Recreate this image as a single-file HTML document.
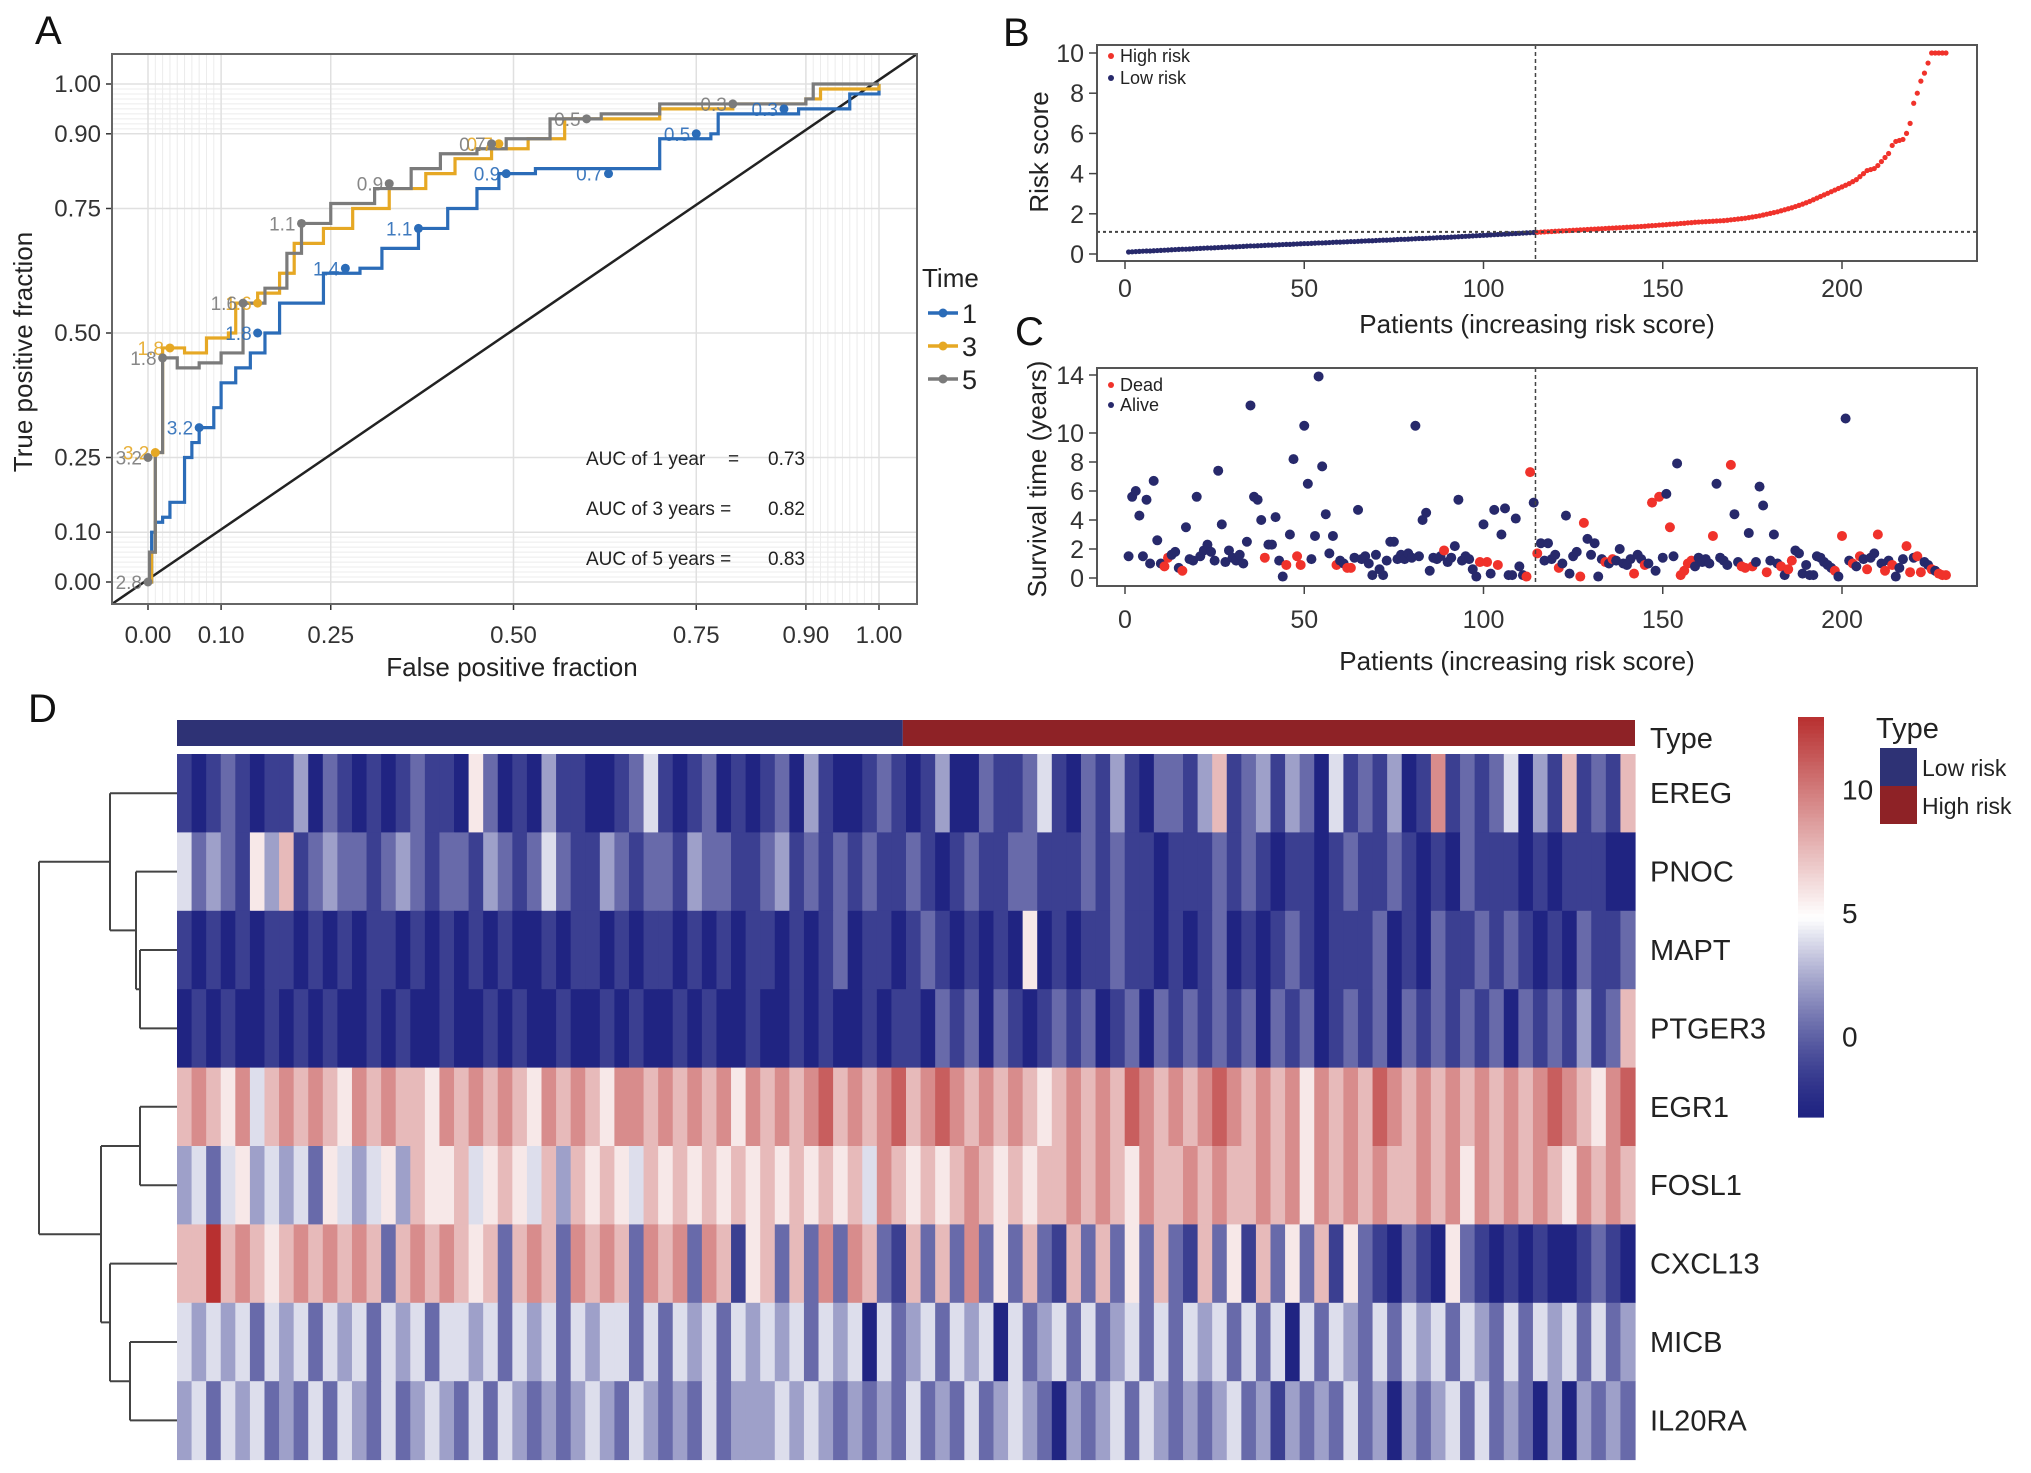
<!DOCTYPE html>
<html><head><meta charset="utf-8">
<style>
html,body{margin:0;padding:0;background:#fff;}
svg{display:block;font-family:"Liberation Sans",Arial,sans-serif;}
</style></head>
<body>
<svg id="fig" width="2031" height="1473" viewBox="0 0 2031 1473" xmlns="http://www.w3.org/2000/svg">
<g id="gA"></g>
<g id="gB"></g>
<g id="gC"></g>
<g id="gD"></g>
</svg>
<script>
// ---------- Panel A data ----------
const rocFpr1 = [0,0.005,0.01,0.02,0.03,0.05,0.06,0.07,0.09,0.10,0.12,0.14,0.16,0.18,0.22,0.24,0.29,0.32,0.37,0.41,0.45,0.48,0.53,0.69,0.70,0.77,0.78,0.89,0.96,1];
const rocTpr1 = [0,0.10,0.12,0.13,0.16,0.25,0.28,0.31,0.35,0.40,0.43,0.46,0.50,0.56,0.56,0.62,0.63,0.67,0.71,0.75,0.79,0.82,0.83,0.83,0.89,0.90,0.94,0.95,0.98,1];
const rocFpr3 = [0,0.005,0.01,0.02,0.05,0.08,0.11,0.12,0.15,0.18,0.20,0.24,0.28,0.33,0.38,0.42,0.47,0.52,0.57,0.65,0.70,0.80,0.90,0.92,1];
const rocTpr3 = [0,0.06,0.26,0.47,0.46,0.49,0.50,0.56,0.58,0.62,0.68,0.71,0.75,0.79,0.82,0.85,0.87,0.89,0.93,0.93,0.95,0.96,0.97,0.99,1];
const rocFpr5 = [0,0.002,0.01,0.02,0.04,0.07,0.10,0.13,0.16,0.19,0.21,0.25,0.31,0.36,0.40,0.45,0.49,0.55,0.62,0.70,0.80,0.90,0.91,1];
const rocTpr5 = [0,0.06,0.26,0.45,0.43,0.44,0.46,0.56,0.59,0.66,0.72,0.76,0.79,0.83,0.86,0.87,0.89,0.93,0.94,0.96,0.96,0.97,1.0,1];
const rocLabelSeries = [1,1,1,1,1,1,1,1,3,3,3,3,5,5,5,5,5,5,5,5,5];
const rocLabelX = [0.07,0.15,0.27,0.37,0.49,0.63,0.75,0.87,0.01,0.03,0.15,0.48,0,0,0.02,0.13,0.21,0.33,0.47,0.60,0.80];
const rocLabelY = [0.31,0.50,0.63,0.71,0.82,0.82,0.90,0.95,0.26,0.47,0.56,0.88,0,0.25,0.45,0.56,0.72,0.80,0.88,0.93,0.96];
const rocLabelText = ["3.2","1.8","1.4","1.1","0.9","0.7","0.5","0.3","3.2","1.8","1.6","0.7","2.8","3.2","1.8","1.6","1.1","0.9","0.7","0.5","0.3"];
const rocTicks = [0,0.10,0.25,0.50,0.75,0.90,1.00];
const rocTickLabels = ["0.00","0.10","0.25","0.50","0.75","0.90","1.00"];
const aucLabels = ["AUC of 1 year","AUC of 3 years =","AUC of 5 years ="];
const aucValues = ["0.73","0.82","0.83"];
const timeLevels = ["1","3","5"];

// ---------- Panel B data ----------
const riskScores = [.10,.11,.12,.13,.14,.15,.15,.16,.17,.18,.19,.20,.21,.22,.23,.24,.24,.25,.26,.27,.28,.29,.30,.30,.31,.32,.33,.34,.35,.35,.36,.37,.38,.39,.40,.40,.41,.42,.43,.44,.44,.45,.46,.47,.48,.48,.49,.50,.51,.52,.52,.53,.54,.55,.55,.56,.57,.58,.59,.59,.60,.61,.62,.62,.63,.64,.65,.66,.66,.67,.68,.69,.69,.70,.71,.72,.73,.73,.74,.75,.76,.77,.77,.78,.79,.80,.81,.82,.82,.83,.84,.85,.86,.87,.88,.89,.90,.91,.92,.93,.94,.95,.96,.97,.98,.99,1.00,1.01,1.02,1.03,1.04,1.05,1.06,1.07,
1.08,1.09,1.10,1.11,1.12,1.13,1.14,1.15,1.16,1.17,1.18,1.19,1.20,1.21,1.22,1.23,1.24,1.25,1.26,1.27,1.28,1.29,1.30,1.31,1.32,1.33,1.34,1.35,1.36,1.37,1.38,1.40,1.41,1.42,1.44,1.45,1.46,1.48,1.49,1.50,1.52,1.53,1.55,1.56,1.58,1.59,1.60,1.61,1.62,1.63,1.64,1.65,1.66,1.68,1.70,1.72,1.74,1.76,1.78,1.81,1.84,1.87,1.90,1.94,1.98,2.02,2.06,2.10,2.15,2.20,2.25,2.30,2.36,2.42,2.48,2.55,2.62,2.70,2.78,2.86,2.94,3.02,3.10,3.18,3.26,3.34,3.42,3.50,3.60,3.70,3.85,4.00,4.15,4.20,4.25,4.40,4.60,4.80,5.00,5.40,5.60,5.65,5.70,6.00,6.50,7.50,8.0,8.6,9.0,9.5,10,10,10,10,10];
const riskCutoff = 1.1;
const splitPatient = 114.5;
const patientTicks = [0,50,100,150,200];
const riskTicks = [0,2,4,6,8,10];

// ---------- Panel C data ----------
const survivalYears = [1.5,5.6,6.0,4.3,1.5,5.4,1.0,6.7,2.6,1.0, 0.8,1.4,1.6,1.8,0.7,0.5,3.5,1.3,1.2,5.6, 1.5,1.9,2.3,1.8,1.2,7.4,3.7,1.1,1.9,1.4, 1.2,1.6,1.0,2.5,11.9,5.6,5.4,4.0,1.4,2.3, 2.3,4.2,1.2,0.1,0.9,3.0,8.2,1.5,0.9,10.5, 6.5,1.3,2.9,13.9,7.7,4.4,1.7,2.9,0.9,1.2, 1.0,0.7,0.7,1.4,4.7,1.3,1.5,1.0,0.2,1.6, 0.6,0.2,1.2,2.5,2.5,1.3,1.6,1.3,1.7,1.4, 10.5,1.5,4.0,4.5,0.5,1.4,1.3,1.5,1.9,1.1, 1.4,2.2,5.4,1.2,1.5,1.3,0.6,0.1,1.1,3.7, 1.1,0.3,4.7,0.9,3.0,4.8,0.2,0.2,4.1,0.8, 0.2,0.1,7.3,5.2,1.7,2.4,1.2,2.4,1.3,1.6, 0.7,1.0,4.3,0.3,1.5,1.8,0.1,3.8,2.7,1.6, 2.4,0.1,1.3,1.1,1.0,1.3,1.2,2.0,1.0,0.9, 1.3,0.3,1.6,1.3,0.9,1.0,5.2,0.5,5.6,1.4, 5.8,3.5,1.5,7.9,0.2,0.5,1.0,1.2,0.8,1.4, 1.1,1.3,1.0,2.9,6.5,1.4,1.2,0.9,7.8,4.4, 1.1,0.8,0.7,3.1,0.8,1.1,6.3,5.0,0.4,1.2, 3.0,1.0,0.8,0.2,0.6,1.2,1.9,1.7,0.3,0.9, 0.2,0.2,1.5,1.4,1.1,0.9,0.7,0.5,0.1,2.9, 11.0,1.2,1.0,0.8,1.5,1.3,0.6,1.4,1.7,3.0, 1.0,0.5,1.2,0.9,0.1,0.7,1.3,2.2,0.4,1.4, 1.5,0.4,1.1,0.9,0.6,0.5,0.3,0.2,0.2];
const deadPatients = [11,12,16,39,45,48,49,59,62,63,89,99,101,104,112,113,115,121,127,128,134,136,142,145,147,149,152,155,156,157,158,164,169,172,173,175,179,183,185,186,198,200,203,205,207,210,212,214,218,219,221,222,225,227,228,229];
const survTicks = [0,2,4,6,8,10,14];

// ---------- Panel D data ----------
const genes = ["EREG","PNOC","MAPT","PTGER3","EGR1","FOSL1","CXCL13","MICB","IL20RA"];
const exprLevels = [
"1012101130210101211052010311001241012010120310012101300211241021310221361231320412130171212403161216",
"4232153612322123212213212421132122132211231212121121012112211121211011121210110121121010211101011100",
"1010101101010110101010100101101011010101101012011012101010501011211010120101210111201021121210102112",
"0101001010100101001001010010010100101001001010010110212021012120120212121202120121202121212021213126",
"6765746767657676657676765767657767676757676786767867876767656767687676787676757676876767676767876578",
"3424534342543453655645654636565465656565656565647656567656566767657667676676757676766767576767657676",
"6696765676767626767656267627676276727615626272762162627252621626252621625162526152102105210101001210",
"4343424342434243424434243424344242434243434243404234243404234242342424342424042432424342432424342423",
"3424342324243242343242432323432432324233343432323242324234320323424323234231323242303234242320303232"];
const colorTicks = [0,5,10];
const riskTypes = ["Low risk","High risk"];
const nLowRisk = 114, nPatients = 229;

// ---------- helpers ----------
const NS = "http://www.w3.org/2000/svg";
function mk(parent, tag, attrs, text){
  const e = document.createElementNS(NS, tag);
  for (const k in attrs) e.setAttribute(k, attrs[k]);
  if (text !== undefined) e.textContent = text;
  parent.appendChild(e);
  return e;
}
const gA = document.getElementById('gA'), gB = document.getElementById('gB'),
      gC = document.getElementById('gC'), gD = document.getElementById('gD');

// ================= Panel A =================
(function(){
  const xA = v => 148 + v * (879 - 148);
  const yA = v => 582 - v * (582 - 84);
  let t = mk(gA,'text',{x:35,y:44,'font-size':40,fill:'#111'},'A');
  
  
  const fine = [0.01,0.02,0.03,0.04,0.05,0.06,0.07,0.08,0.09,0.91,0.92,0.93,0.94,0.95,0.96,0.97,0.98,0.99];
  fine.forEach(v=>{
    mk(gA,'line',{x1:xA(v),x2:xA(v),y1:54,y2:604,stroke:'#ececec','stroke-width':1});
    mk(gA,'line',{x1:112,x2:917,y1:yA(v),y2:yA(v),stroke:'#ececec','stroke-width':1});
  });
  rocTicks.forEach((v,i)=>{
    mk(gA,'line',{x1:xA(v),x2:xA(v),y1:54,y2:604,stroke:'#e0e0e0','stroke-width':1.5});
    mk(gA,'line',{x1:112,x2:917,y1:yA(v),y2:yA(v),stroke:'#e0e0e0','stroke-width':1.5});
    let tl = mk(gA,'text',{x:xA(v),y:643,'font-size':24,fill:'#333','text-anchor':'middle'},rocTickLabels[i]);
    
    
    let yl = mk(gA,'text',{x:101,y:yA(v)+8,'font-size':24,fill:'#333','text-anchor':'end'},rocTickLabels[i]);
    
    
    mk(gA,'line',{x1:xA(v),x2:xA(v),y1:604,y2:610,stroke:'#333','stroke-width':1.5});
    mk(gA,'line',{x1:106,x2:112,y1:yA(v),y2:yA(v),stroke:'#333','stroke-width':1.5});
  });
  let d = mk(gA,'line',{x1:112,y1:604,x2:917,y2:54,stroke:'#222','stroke-width':2.5});
  
  
  const series = [[rocFpr1,rocTpr1,'#2b6cb8','roc-curve-1-year'],[rocFpr3,rocTpr3,'#e6a824','roc-curve-3-years'],[rocFpr5,rocTpr5,'#7b7b7b','roc-curve-5-years']];
  const colOf = {1:'#2b6cb8',3:'#e6a824',5:'#7b7b7b'};
  series.forEach(s=>{
    let p = 'M'+xA(s[0][0])+','+yA(s[1][0]);
    for (let i=1;i<s[0].length;i++){ p += ' H'+xA(s[0][i])+' V'+yA(s[1][i]); }
    let el = mk(gA,'path',{d:p,fill:'none',stroke:s[2],'stroke-width':3.2});
    
    
  });
  rocLabelText.forEach((lab,i)=>{
    const c = colOf[rocLabelSeries[i]];
    let pt = mk(gA,'circle',{cx:xA(rocLabelX[i]),cy:yA(rocLabelY[i]),r:4.5,fill:c});
    
    
    let tx = mk(gA,'text',{x:xA(rocLabelX[i])-6,y:yA(rocLabelY[i])+7,'font-size':19,fill:c,'text-anchor':'end','opacity':0.9},lab);
    
    
  });
  let box = mk(gA,'rect',{x:112,y:54,width:805,height:550,fill:'none',stroke:'#666','stroke-width':2});
  
  
  aucLabels.forEach((l,i)=>{
    let a = mk(gA,'text',{x:586,y:465+i*50,'font-size':19,fill:'#222'},l);
    
    
    if(i===0) mk(gA,'text',{x:728,y:465,'font-size':19,fill:'#222'},'=');
    let b = mk(gA,'text',{x:768,y:465+i*50,'font-size':19,fill:'#222'},aucValues[i]);
    
    
  });
  let xt = mk(gA,'text',{x:512,y:676,'font-size':26,fill:'#222','text-anchor':'middle'},'False positive fraction');
  
  
  let yt = mk(gA,'text',{x:0,y:0,'font-size':26,fill:'#222','text-anchor':'middle',transform:'translate(32,352) rotate(-90)'},'True positive fraction');
  
  
  let lt = mk(gA,'text',{x:922,y:287,'font-size':26,fill:'#222'},'Time');
  
  
  timeLevels.forEach((lv,i)=>{
    const y = 313 + i*33, c = colOf[+lv];
    mk(gA,'line',{x1:928,x2:958,y1:y,y2:y,stroke:c,'stroke-width':3.5});
    mk(gA,'circle',{cx:943,cy:y,r:4.5,fill:c});
    let le = mk(gA,'text',{x:962,y:y+10,'font-size':27,fill:'#222'},lv);
    
    
  });
})();

// ================= Panels B & C =================
const xP = p => 1125 + p * (1842 - 1125) / 200;
(function(){
  const yB = v => 254 - v * (254 - 53) / 10;
  let t = mk(gB,'text',{x:1003,y:46,'font-size':40,fill:'#111'},'B');
  
  
  riskScores.forEach((v,i)=>{
    const p = i+1;
    let c = mk(gB,'circle',{cx:xP(p),cy:yB(v),r:2.6,fill: p<=nLowRisk ? '#27296b' : '#f0322b'});
    
    
  });
  mk(gB,'line',{x1:1097,x2:1977,y1:yB(riskCutoff),y2:yB(riskCutoff),stroke:'#444','stroke-width':2,'stroke-dasharray':'3,3'});
  mk(gB,'line',{x1:xP(splitPatient),x2:xP(splitPatient),y1:45,y2:261,stroke:'#444','stroke-width':1.5,'stroke-dasharray':'4,3'});
  let box = mk(gB,'rect',{x:1097,y:45,width:880,height:216,fill:'none',stroke:'#555','stroke-width':2});
  
  
  riskTicks.forEach(v=>{
    mk(gB,'line',{x1:1089,x2:1097,y1:yB(v),y2:yB(v),stroke:'#444','stroke-width':1.5});
    let l = mk(gB,'text',{x:1084,y:yB(v)+9,'font-size':25,fill:'#333','text-anchor':'end'},String(v));
    
    
  });
  patientTicks.forEach(v=>{
    mk(gB,'line',{x1:xP(v),x2:xP(v),y1:261,y2:269,stroke:'#444','stroke-width':1.5});
    let l = mk(gB,'text',{x:xP(v),y:297,'font-size':25,fill:'#333','text-anchor':'middle'},String(v));
    
    
  });
  let xt = mk(gB,'text',{x:1537,y:333,'font-size':26,fill:'#222','text-anchor':'middle'},'Patients (increasing risk score)');
  
  
  let yt = mk(gB,'text',{x:0,y:0,'font-size':26,fill:'#222','text-anchor':'middle',transform:'translate(1048,152) rotate(-90)'},'Risk score');
  
  
  [['High risk','#f0322b',62],['Low risk','#27296b',84]].forEach(e=>{
    mk(gB,'circle',{cx:1111,cy:e[2]-6,r:3,fill:e[1]});
    let l = mk(gB,'text',{x:1120,y:e[2],'font-size':18,fill:'#222'},e[0]);
    
    
  });
})();
(function(){
  const yC = v => 578 - v * (578 - 375) / 14;
  let t = mk(gC,'text',{x:1015,y:345,'font-size':40,fill:'#111'},'C');
  
  
  const dead = new Set(deadPatients);
  survivalYears.forEach((v,i)=>{
    const p = i+1, isDead = dead.has(p);
    let c = mk(gC,'circle',{cx:xP(p),cy:yC(v),r:5,fill: isDead ? '#f0322b' : '#27296b'});
    
    
  });
  mk(gC,'line',{x1:xP(splitPatient),x2:xP(splitPatient),y1:368,y2:586,stroke:'#444','stroke-width':1.5,'stroke-dasharray':'4,3'});
  let box = mk(gC,'rect',{x:1097,y:368,width:880,height:218,fill:'none',stroke:'#555','stroke-width':2});
  
  
  survTicks.forEach(v=>{
    mk(gC,'line',{x1:1089,x2:1097,y1:yC(v),y2:yC(v),stroke:'#444','stroke-width':1.5});
    let l = mk(gC,'text',{x:1084,y:yC(v)+9,'font-size':25,fill:'#333','text-anchor':'end'},String(v));
    
    
  });
  patientTicks.forEach(v=>{
    mk(gC,'line',{x1:xP(v),x2:xP(v),y1:586,y2:594,stroke:'#444','stroke-width':1.5});
    let l = mk(gC,'text',{x:xP(v),y:628,'font-size':25,fill:'#333','text-anchor':'middle'},String(v));
    
    
  });
  let xt = mk(gC,'text',{x:1517,y:670,'font-size':26,fill:'#222','text-anchor':'middle'},'Patients (increasing risk score)');
  
  
  let yt = mk(gC,'text',{x:0,y:0,'font-size':26,fill:'#222','text-anchor':'middle',transform:'translate(1046,479) rotate(-90)'},'Survival time (years)');
  
  
  [['Dead','#f0322b',391],['Alive','#27296b',411]].forEach(e=>{
    mk(gC,'circle',{cx:1111,cy:e[2]-6,r:3,fill:e[1]});
    let l = mk(gC,'text',{x:1120,y:e[2],'font-size':18,fill:'#222'},e[0]);
    
    
  });
})();

// ================= Panel D =================
(function(){
  const vMin = -3.3, vMax = 12.9, vMid = (vMin+vMax)/2;
  const lo=[32,36,130], mid=[255,255,255], hi=[184,48,48];
  function col(v){
    let a,b,t;
    if (v<=vMid){ a=lo;b=mid;t=(v-vMin)/(vMid-vMin); t=Math.max(0,Math.min(1,t)); t=Math.pow(t,1.4); }
    else { a=mid;b=hi;t=(v-vMid)/(vMax-vMid); t=Math.max(0,Math.min(1,t)); }
    return 'rgb('+a.map((x,i)=>Math.round(x+(b[i]-x)*t)).join(',')+')';
  }
  const digitToValue = d => vMin + d * (vMax - vMin) / 9;
  const X0=177, X1=1635, rowTop=754, rowH=78.4;
  let t = mk(gD,'text',{x:28,y:722,'font-size':40,fill:'#111'},'D');
  
  
  const cw = (X1-X0)/nPatients;
  let lowBar = mk(gD,'rect',{x:X0,y:720,width:nLowRisk*cw,height:26,fill:'#2e3275'});
  
  
  let hiBar = mk(gD,'rect',{x:X0+nLowRisk*cw,y:720,width:(nPatients-nLowRisk)*cw,height:26,fill:'#8e2226'});
  
  
  let tl = mk(gD,'text',{x:1650,y:748,'font-size':29,fill:'#222'},'Type');
  
  
  genes.forEach((g,r)=>{
    const s = exprLevels[r], n = s.length, w = (X1-X0)/n;
    for (let i=0;i<n;i++){
      let c = mk(gD,'rect',{x:(X0+i*w).toFixed(2),y:rowTop+r*rowH,width:(w+0.6).toFixed(2),height:rowH+0.5,fill:col(digitToValue(+s[i]))});
      
      
    }
    let l = mk(gD,'text',{x:1650,y:rowTop+r*rowH+rowH/2+10,'font-size':29,fill:'#222'},g);
    
    
  });
  const Y = r => rowTop + r*rowH + rowH/2;
  const m01 = (Y(2)+Y(3))/2, m1 = (Y(1)+m01)/2, mTop=(Y(0)+m1)/2;
  const mEF=(Y(4)+Y(5))/2, mMI=(Y(7)+Y(8))/2, mC=(Y(6)+mMI)/2, mBot=(mEF+mC)/2;
  let dp = '';
  const seg=(x1,y1,x2,y2)=>{dp+='M'+x1+','+y1+' L'+x2+','+y2+' ';};
  seg(140,Y(2),X0,Y(2)); seg(140,Y(3),X0,Y(3)); seg(140,Y(2),140,Y(3));
  seg(136,Y(1),X0,Y(1)); seg(136,m01,140,m01); seg(136,Y(1),136,m01);
  seg(110,Y(0),X0,Y(0)); seg(110,m1,136,m1); seg(110,Y(0),110,m1);
  seg(140,Y(4),X0,Y(4)); seg(140,Y(5),X0,Y(5)); seg(140,Y(4),140,Y(5));
  seg(130,Y(7),X0,Y(7)); seg(130,Y(8),X0,Y(8)); seg(130,Y(7),130,Y(8));
  seg(110,Y(6),X0,Y(6)); seg(110,mMI,130,mMI); seg(110,Y(6),110,mMI);
  seg(101,mEF,140,mEF); seg(101,mC,110,mC); seg(101,mEF,101,mC);
  seg(39,mTop,110,mTop); seg(39,mBot,101,mBot); seg(39,mTop,39,mBot);
  let den = mk(gD,'path',{d:dp,stroke:'#444','stroke-width':2,fill:'none'});
  
  
  const cbTop=717, cbBot=1117;
  const yCb = v => cbBot - (v - vMin) * (cbBot - cbTop) / (vMax - vMin);
  for (let k=0;k<100;k++){
    const v0 = vMin + (vMax-vMin)*k/100;
    mk(gD,'rect',{x:1798,y:yCb(v0+(vMax-vMin)/100),width:26,height:(cbBot-cbTop)/100+0.6,fill:col(v0+(vMax-vMin)/200)});
  }
  colorTicks.forEach(v=>{
    let l = mk(gD,'text',{x:1842,y:yCb(v)+11,'font-size':28,fill:'#222'},String(v));
    
    
  });
  let lg = mk(gD,'text',{x:1876,y:738,'font-size':29,fill:'#222'},'Type');
  
  
  [['#2e3275',748],['#8e2226',786]].forEach((e,i)=>{
    let r = mk(gD,'rect',{x:1880,y:e[1],width:37,height:38,fill:e[0]});
    
    
    let l = mk(gD,'text',{x:1922,y:e[1]+28,'font-size':23,fill:'#222'},riskTypes[i]);
    
    
  });
})();
</script>
</body></html>
